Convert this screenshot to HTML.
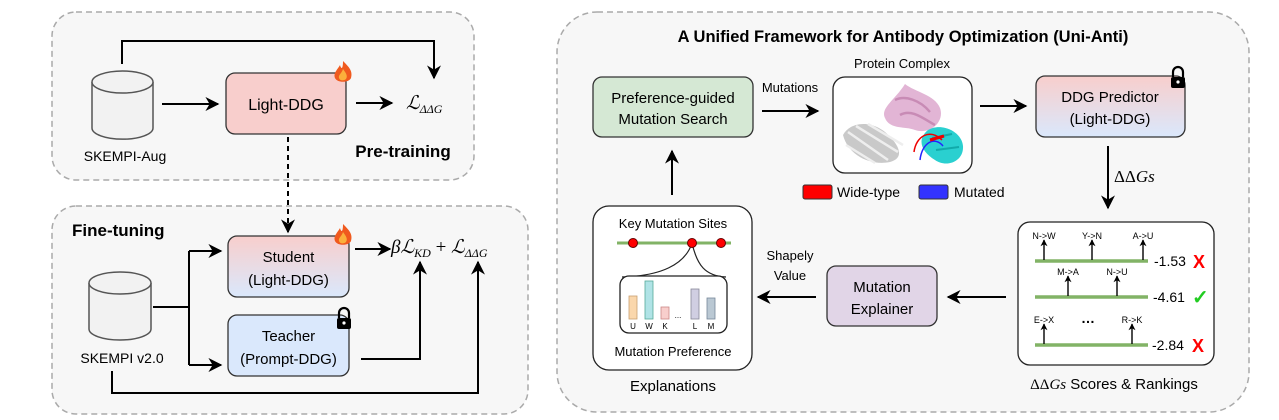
<!DOCTYPE html>
<html><head><meta charset="utf-8"><style>
html,body{margin:0;padding:0;background:#fff;}
svg{display:block;font-family:"Liberation Sans",sans-serif;}
.m{font-family:"Liberation Serif",serif;font-style:italic;}
</style></head><body>
<svg width="1279" height="420" viewBox="0 0 1279 420" xmlns="http://www.w3.org/2000/svg">
<defs>
<marker id="ah" viewBox="0 0 10 10" refX="9" refY="5" markerWidth="7" markerHeight="7" orient="auto-start-reverse"><path d="M0,0 L10,5 L0,10 L3,5 z" fill="#000"/></marker>
<marker id="sa" viewBox="0 0 10 10" refX="9" refY="5" markerWidth="5" markerHeight="5" orient="auto"><path d="M0,0 L10,5 L0,10 L3,5 z" fill="#000"/></marker>
<linearGradient id="pb" x1="0" y1="0" x2="0" y2="1"><stop offset="0" stop-color="#f8cecc"/><stop offset="1" stop-color="#dae8fc"/></linearGradient>
<g id="lock"><path d="M-5,0 v-5 a5,5 0 0 1 10,0 v5" fill="none" stroke="#000" stroke-width="2.2"/><rect x="-7" y="0" width="14" height="11" rx="2" fill="#000"/><circle cx="0" cy="5" r="1.6" fill="#fff"/></g>
<g id="fire"><path d="M0,-12 C6,-6 10,-2 8,5 C6,10 -6,10 -8,5 C-10,0 -5,-4 -3,-8 C-2,-4 0,-3 0,-12z" fill="#f05a1e"/><path d="M0,-4 C3,0 5,3 3,6 C1,8 -3,8 -4,5 C-5,2 -1,0 0,-4z" fill="#fbb03b"/></g>
</defs>

<rect x="52" y="12" width="422" height="168" rx="24" fill="#f7f7f7" stroke="#aaa" stroke-width="1.5" stroke-dasharray="6,4"/>
<rect x="52" y="206" width="476" height="208" rx="24" fill="#f7f7f7" stroke="#aaa" stroke-width="1.5" stroke-dasharray="6,4"/>

<path d="M92,82 v46 a30,11 0 0 0 61,0 v-46" fill="#f2f2f2" stroke="#555" stroke-width="1.5"/>
<ellipse cx="122.5" cy="82" rx="30.5" ry="11" fill="#f2f2f2" stroke="#555" stroke-width="1.5"/>
<text x="125" y="161" font-size="14" text-anchor="middle">SKEMPI-Aug</text>

<path d="M122,64 V41 H434 V78" fill="none" stroke="#000" stroke-width="2" marker-end="url(#ah)"/>
<line x1="162" y1="104" x2="218" y2="104" stroke="#000" stroke-width="2" marker-end="url(#ah)"/>
<rect x="226" y="73" width="120" height="61" rx="9" fill="#f8cecc" stroke="#333" stroke-width="1.3"/>
<text x="286" y="110" font-size="16" text-anchor="middle">Light-DDG</text>
<use href="#fire" x="343" y="73"/>
<line x1="356" y1="103" x2="392" y2="103" stroke="#000" stroke-width="2" marker-end="url(#ah)"/>
<text x="406" y="109" font-size="19" class="m">ℒ<tspan font-size="12" dy="4">ΔΔG</tspan></text>
<text x="403" y="157" font-size="17" font-weight="bold" text-anchor="middle">Pre-training</text>

<line x1="288" y1="137" x2="288" y2="232" stroke="#000" stroke-width="2" stroke-dasharray="5,4" marker-end="url(#ah)"/>

<text x="72" y="236" font-size="17" font-weight="bold">Fine-tuning</text>
<path d="M89,283 v46 a31,11 0 0 0 62,0 v-46" fill="#f2f2f2" stroke="#555" stroke-width="1.5"/>
<ellipse cx="120" cy="283" rx="31" ry="11" fill="#f2f2f2" stroke="#555" stroke-width="1.5"/>
<text x="122" y="363" font-size="14" text-anchor="middle">SKEMPI v2.0</text>

<path d="M153,307 H189" fill="none" stroke="#000" stroke-width="2"/>
<path d="M189,251 V365" fill="none" stroke="#000" stroke-width="2"/>
<line x1="189" y1="251" x2="221" y2="251" stroke="#000" stroke-width="2" marker-end="url(#ah)"/>
<line x1="189" y1="365" x2="221" y2="365" stroke="#000" stroke-width="2" marker-end="url(#ah)"/>

<rect x="228" y="236" width="121" height="61" rx="9" fill="url(#pb)" stroke="#333" stroke-width="1.3"/>
<text x="288.5" y="262" font-size="15" text-anchor="middle">Student</text>
<text x="288.5" y="285" font-size="15" text-anchor="middle">(Light-DDG)</text>
<use href="#fire" x="343" y="236"/>
<rect x="228" y="315" width="121" height="61" rx="9" fill="#dae8fc" stroke="#333" stroke-width="1.3"/>
<text x="288.5" y="341" font-size="15" text-anchor="middle">Teacher</text>
<text x="288.5" y="364" font-size="15" text-anchor="middle">(Prompt-DDG)</text>
<use href="#lock" x="344" y="318"/>

<line x1="355" y1="249" x2="390" y2="249" stroke="#000" stroke-width="2" marker-end="url(#ah)"/>
<text x="391" y="253" font-size="19" class="m">βℒ<tspan font-size="12" dy="4">KD</tspan><tspan dy="-4" font-style="normal"> + </tspan>ℒ<tspan font-size="12" dy="4">ΔΔG</tspan></text>
<path d="M361,359 H420 V262" fill="none" stroke="#000" stroke-width="2" marker-end="url(#ah)"/>
<path d="M112,371 V393 H478 V262" fill="none" stroke="#000" stroke-width="2" marker-end="url(#ah)"/>

<rect x="557" y="12" width="692" height="400" rx="40" fill="#f7f7f7" stroke="#aaa" stroke-width="1.5" stroke-dasharray="6,4"/>
<text x="903" y="42" font-size="16.5" font-weight="bold" text-anchor="middle">A Unified Framework for Antibody Optimization (Uni-Anti)</text>

<rect x="593" y="77" width="160" height="60" rx="9" fill="#d5e8d4" stroke="#333" stroke-width="1.3"/>
<text x="673" y="103" font-size="15" text-anchor="middle">Preference-guided</text>
<text x="673" y="124" font-size="15" text-anchor="middle">Mutation Search</text>
<text x="790" y="92" font-size="13" text-anchor="middle">Mutations</text>
<line x1="762" y1="111" x2="818" y2="111" stroke="#000" stroke-width="2" marker-end="url(#ah)"/>

<text x="902" y="68" font-size="13" text-anchor="middle">Protein Complex</text>
<rect x="833" y="77" width="139" height="96" rx="12" fill="#fff" stroke="#222" stroke-width="1.3"/>
<g>
<path d="M905,84 C915,92 935,95 940,108 C945,122 930,135 915,130 C905,126 890,130 885,118 C880,108 895,100 905,84 Z" fill="#e2b5d5"/>
<path d="M895,100 C905,95 920,100 930,112 M900,115 C912,108 925,120 935,125" fill="none" stroke="#c88bb5" stroke-width="2.5"/>
<path d="M843,135 C850,122 870,120 885,132 C900,145 905,158 890,162 C870,166 848,155 843,135 Z" fill="#c9c9c9"/>
<path d="M848,132 L888,160 M856,126 L898,152 M846,145 L875,163 M868,124 L903,145" stroke="#eee" stroke-width="2.5"/>
<path d="M928,130 C942,122 962,132 963,146 C964,162 946,168 935,160 C922,152 916,140 928,130 Z" fill="#2ad0d0"/>
<path d="M932,138 L952,134 M936,150 L959,147" stroke="#1aa" stroke-width="2"/>
<path d="M914,152 C916,136 930,128 942,140" fill="none" stroke="#e00" stroke-width="1.5"/>
<path d="M920,160 C922,142 935,136 943,146" fill="none" stroke="#22f" stroke-width="1.5"/>
<path d="M930,140 L944,136" stroke="#e00" stroke-width="3"/>
</g>
<rect x="803" y="185" width="29" height="14" rx="2" fill="#f00" stroke="#333"/>
<text x="837" y="197" font-size="14">Wide-type</text>
<rect x="919" y="185" width="29" height="14" rx="2" fill="#33f" stroke="#333"/>
<text x="954" y="197" font-size="14">Mutated</text>

<line x1="980" y1="106" x2="1026" y2="106" stroke="#000" stroke-width="2" marker-end="url(#ah)"/>
<rect x="1036" y="76" width="149" height="61" rx="9" fill="url(#pb)" stroke="#333" stroke-width="1.3"/>
<text x="1110" y="102" font-size="15" text-anchor="middle">DDG  Predictor</text>
<text x="1110" y="124" font-size="15" text-anchor="middle">(Light-DDG)</text>
<use href="#lock" x="1178" y="77"/>

<line x1="1108" y1="146" x2="1108" y2="208" stroke="#000" stroke-width="2" marker-end="url(#ah)"/>
<text x="1114" y="182" font-size="17" class="m"><tspan font-style="normal">ΔΔ</tspan>Gs</text>

<rect x="1018" y="222" width="196" height="143" rx="12" fill="#fff" stroke="#222" stroke-width="1.3"/>
<g stroke="#82b366" stroke-width="3.5"><line x1="1035" y1="261" x2="1148" y2="261"/><line x1="1035" y1="297" x2="1148" y2="297"/><line x1="1035" y1="345" x2="1148" y2="345"/></g>
<g stroke="#000" stroke-width="1.4" marker-end="url(#sa)">
<line x1="1044" y1="260" x2="1044" y2="240"/><line x1="1092" y1="260" x2="1092" y2="240"/><line x1="1143" y1="260" x2="1143" y2="240"/>
<line x1="1068" y1="296" x2="1068" y2="276"/><line x1="1117" y1="296" x2="1117" y2="276"/>
<line x1="1044" y1="344" x2="1044" y2="324"/><line x1="1132" y1="344" x2="1132" y2="324"/>
</g>
<g font-size="9" text-anchor="middle">
<text x="1044" y="239">N-&gt;W</text><text x="1092" y="239">Y-&gt;N</text><text x="1143" y="239">A-&gt;U</text>
<text x="1068" y="275">M-&gt;A</text><text x="1117" y="275">N-&gt;U</text>
<text x="1044" y="323">E-&gt;X</text><text x="1132" y="323">R-&gt;K</text>
</g>
<text x="1088" y="323" font-size="14" font-weight="bold" text-anchor="middle">…</text>
<g font-size="14"><text x="1154" y="266">-1.53</text><text x="1153" y="302">-4.61</text><text x="1152" y="350">-2.84</text></g>
<g font-weight="bold" font-size="18"><text x="1193" y="268" fill="#f00">X</text><text x="1192" y="352" fill="#f00">X</text><text x="1192" y="304" fill="#2c2" font-size="20">✓</text></g>
<text x="1114" y="389" font-size="15" text-anchor="middle"><tspan font-family="Liberation Serif">ΔΔ</tspan><tspan class="m">Gs</tspan> Scores &amp; Rankings</text>

<line x1="1006" y1="297" x2="948" y2="297" stroke="#000" stroke-width="2" marker-end="url(#ah)"/>
<rect x="827" y="266" width="110" height="60" rx="9" fill="#e1d5e7" stroke="#333" stroke-width="1.3"/>
<text x="882" y="292" font-size="15" text-anchor="middle">Mutation</text>
<text x="882" y="314" font-size="15" text-anchor="middle">Explainer</text>
<text x="790" y="260" font-size="13" text-anchor="middle">Shapely</text>
<text x="790" y="280" font-size="13" text-anchor="middle">Value</text>
<line x1="816" y1="297" x2="758" y2="297" stroke="#000" stroke-width="2" marker-end="url(#ah)"/>

<rect x="593" y="206" width="159" height="164" rx="16" fill="#fff" stroke="#222" stroke-width="1.3"/>
<text x="673" y="228" font-size="13" text-anchor="middle">Key Mutation Sites</text>
<line x1="617" y1="243" x2="731" y2="243" stroke="#82b366" stroke-width="3"/>
<path d="M692,243 C685,265 660,276 622,277 M692,243 C697,265 705,276 726,277" fill="none" stroke="#222" stroke-width="1.2"/>
<g fill="#f00" stroke="#600" stroke-width="1"><circle cx="633" cy="243" r="4.5"/><circle cx="692" cy="243" r="4.5"/><circle cx="721" cy="243" r="4.5"/></g>
<rect x="620" y="276" width="107" height="57" rx="9" fill="#fff" stroke="#222" stroke-width="1.3"/>
<rect x="629" y="296" width="8" height="23" fill="#fad7ac" stroke="#c9a070" stroke-width="0.8"/>
<rect x="645" y="281" width="8" height="38" fill="#b0e3e6" stroke="#5a9" stroke-width="0.8"/>
<rect x="661" y="307" width="8" height="12" fill="#f8cecc" stroke="#c88" stroke-width="0.8"/>
<rect x="691" y="289" width="8" height="30" fill="#d0cee2" stroke="#889" stroke-width="0.8"/>
<rect x="707" y="298" width="8" height="21" fill="#bac8d3" stroke="#789" stroke-width="0.8"/>
<text x="678" y="318" font-size="8" text-anchor="middle">...</text>
<g font-size="8" text-anchor="middle"><text x="633" y="329">U</text><text x="649" y="329">W</text><text x="665" y="329">K</text><text x="695" y="329">L</text><text x="711" y="329">M</text></g>
<text x="673" y="356" font-size="13" text-anchor="middle">Mutation Preference</text>
<text x="673" y="391" font-size="15" text-anchor="middle">Explanations</text>

<line x1="672" y1="195" x2="672" y2="151" stroke="#000" stroke-width="2" marker-end="url(#ah)"/>
</svg>
</body></html>
